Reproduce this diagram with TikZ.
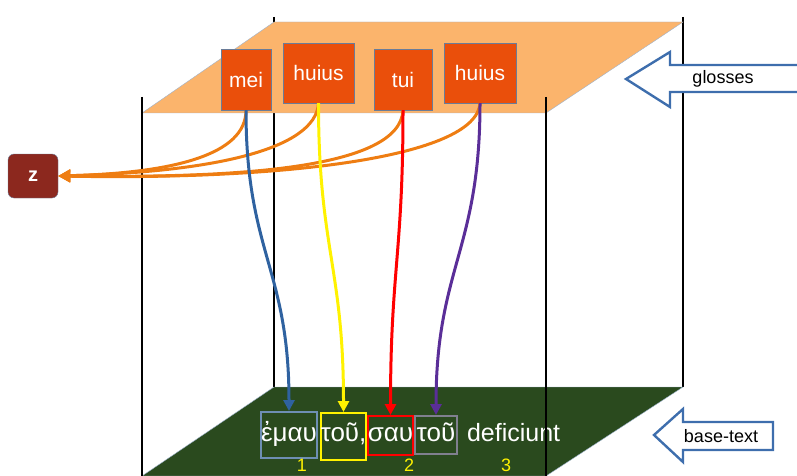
\documentclass[tikz,border=0pt]{standalone}
\usepackage{fontspec}
\setmainfont{Liberation Sans}
\usepackage{tikz}
\usepackage{xcolor}
\usetikzlibrary{arrows.meta}
\definecolor{glosslayer}{HTML}{FBB46C}
\definecolor{baselayer}{HTML}{2A4A1E}
\definecolor{layerline}{HTML}{9DB3CF}
\definecolor{glossfill}{HTML}{EA4F0B}
\definecolor{glossline}{HTML}{6A7C98}
\definecolor{zfill}{HTML}{8C281E}
\definecolor{linkorange}{HTML}{EE7D12}
\definecolor{linkblue}{HTML}{2F62A0}
\definecolor{linkpurple}{HTML}{5A2E98}
\definecolor{wordblue}{HTML}{6E8FB4}
\definecolor{wordgray}{HTML}{80808F}
\definecolor{arrowblue}{HTML}{3E6EAD}
\tikzset{
    post/.style = {black, line width=2.6pt},
    layer/.style = {draw=layerline, thin},
    gloss-box/.style = {draw=glossline, fill=glossfill, thin, rectangle, text=white, inner sep=0pt, font=\fontsize{21}{25}\selectfont},
    word-box/.style = {rectangle, line width=2pt, text=white, inner sep=0pt, anchor=base, font=\fontsize{26}{30}\selectfont},
    gloss-link/.style = {linkorange, line width=3pt, -{Triangle[length=12pt,width=12pt]}},
    word-link/.style = {line width=3pt, -{Triangle[length=11pt,width=11pt]}, out=-90, in=90, looseness=1.2},
    label-arrow/.style = {draw=arrowblue, fill=white, line width=2.4pt},
    label-text/.style = {font=\fontsize{18}{22}\selectfont},
    word-num/.style = {text=yellow, inner sep=0pt, font=\fontsize{18}{20}\selectfont},
}

\begin{document}
\begin{tikzpicture}[x=1pt, y=-1pt]
\useasboundingbox (0,0) rectangle (797,476);
% back posts and the two layers
\draw[post] (274,17) -- (274,387);
\draw[post] (683,17) -- (683,387);
\draw[layer, fill=glosslayer] (274,22) -- (683,22) -- (546,113) -- (142,113) -- cycle;
\draw[layer, fill=baselayer] (274,387) -- (683,387) -- (546,476) -- (142,476) -- cycle;

% glosses
\node[gloss-box, minimum width=50pt, minimum height=61pt] (mei) at (246,79.5) {mei};
\node[gloss-box, minimum width=71pt, minimum height=60pt] (huius-a) at (318.5,73) {huius};
\node[gloss-box, minimum width=58pt, minimum height=61pt] (tui) at (403,79.5) {tui};
\node[gloss-box, minimum width=72pt, minimum height=60pt] (huius-b) at (480,73) {huius};

% base text
\node[word-box, draw=wordblue, minimum width=56pt, text height=29pt, text depth=17pt] (emau) at (289,441) {ἐμαυ};
\node[word-box, draw=yellow, minimum width=45pt, text height=28pt, text depth=19pt] (tou-a) at (343.5,441) {τοῦ,};
\node[word-box, draw=red, minimum width=45pt, text height=25pt, text depth=14pt] (sau) at (390.5,441) {σαυ};
\node[word-box, draw=wordgray, minimum width=42pt, text height=25pt, text depth=13pt] (tou-b) at (436,441) {τοῦ};
\node[word-box, anchor=base west, font=\fontsize{25}{30}\selectfont] (deficiunt) at (466,441) {deficiunt};
\node[word-num] (num-1) at (302,465) {1};
\node[word-num] (num-2) at (409,465) {2};
\node[word-num] (num-3) at (506,465) {3};

% front posts
\draw[post] (142,97) -- (142,476);
\draw[post] (546,97) -- (546,476);

\node[rectangle, rounded corners=6pt, draw=glossline, thin, fill=zfill, text=white, font=\fontsize{20}{24}\selectfont\bfseries, minimum width=50pt, minimum height=44pt] (z) at (33,176) {z};

% links
\draw[gloss-link] (mei.south) .. controls +(0,45) and +(114,-3) .. (z.east);
\draw[gloss-link] (huius-a.south) .. controls +(-3,47) and +(152,-4) .. (z.east);
\draw[gloss-link] (tui.south) .. controls +(-3,60) and +(172,2) .. (z.east);
\draw[gloss-link] (huius-b.south) .. controls +(-4,55) and +(222,4) .. (z.east);
\draw[word-link, linkblue] (mei.south) to (emau.north);
\draw[word-link, yellow] (huius-a.south) to (tou-a.north);
\draw[word-link, red] (tui.south) to (sau.north);
\draw[word-link, linkpurple] (huius-b.south) to (tou-b.north);

% layer labels
\draw[label-arrow] (626,79) -- (670,52) -- (670,65) -- (830,65) -- (830,92) -- (670,92) -- (670,107) -- cycle;
\node[label-text] (glosses) at (723,79) {glosses};
\draw[label-arrow] (654,435) -- (683,409) -- (683,422) -- (773,422) -- (773,450) -- (683,450) -- (683,462) -- cycle;
\node[label-text] (base-text) at (721,436) {base-text};
\end{tikzpicture}
\end{document}
